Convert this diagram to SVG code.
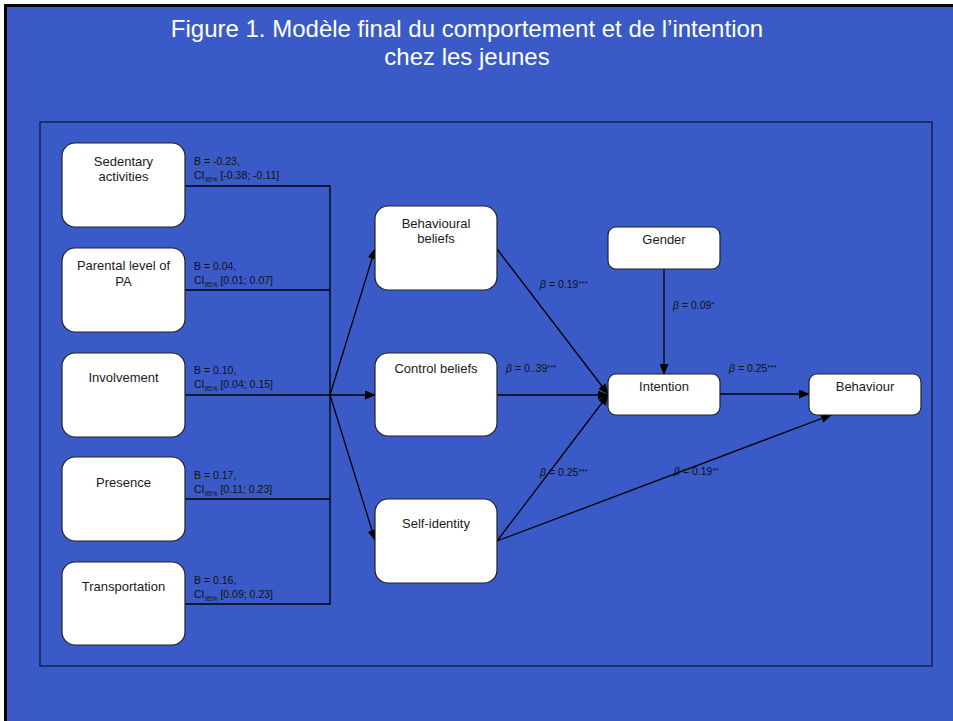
<svg xmlns="http://www.w3.org/2000/svg" width="953" height="721" viewBox="0 0 953 721">
<style>
.title{font-family:"Liberation Sans",Arial,sans-serif;font-size:24px;fill:#ffffff;text-anchor:middle}
.node rect{fill:#ffffff;stroke:#222222;stroke-width:1.2}
.nt{font-family:"Liberation Sans",Arial,sans-serif;font-size:13px;fill:#1a1a1a;text-anchor:middle}
.lb{font-family:"Liberation Sans",Arial,sans-serif;font-size:10.5px;fill:#111111}
.bl{font-family:"Liberation Sans",Arial,sans-serif;font-size:10.5px;fill:#111111}
.sub{font-size:6.5px}
.sup{font-size:8px}
.ln{fill:none;stroke:#000000;stroke-width:1.3}
</style>
<defs>
<marker id="ah" markerWidth="11" markerHeight="9" refX="10" refY="4.5" orient="auto" markerUnits="userSpaceOnUse">
<path d="M0,0 L11,4.5 L0,9 Z" fill="#000000"/>
</marker>
</defs>
<rect x="0" y="0" width="953" height="721" fill="#ffffff"/>
<rect x="4" y="4" width="949" height="717" fill="#000000"/>
<rect x="7" y="7" width="946" height="714" fill="#3A5BC7"/>
<text class="title" x="467" y="37">Figure 1. Modèle final du comportement et de l’intention</text>
<text class="title" x="467" y="65">chez les jeunes</text>
<rect x="40" y="122" width="892" height="544" fill="none" stroke="#14183a" stroke-width="1.3"/>

<g id="connectors">
<polyline class="ln" points="185,186 330,186 330,604 185,604"/>
<line class="ln" x1="185" y1="290" x2="330" y2="290"/>
<line class="ln" x1="185" y1="395" x2="330" y2="395"/>
<line class="ln" x1="185" y1="499" x2="330" y2="499"/>
<line class="ln" x1="330" y1="395" x2="375" y2="249" marker-end="url(#ah)"/>
<line class="ln" x1="330" y1="395" x2="375" y2="395" marker-end="url(#ah)"/>
<line class="ln" x1="330" y1="395" x2="375" y2="540" marker-end="url(#ah)"/>
<line class="ln" x1="497" y1="249" x2="608" y2="394" marker-end="url(#ah)"/>
<line class="ln" x1="497" y1="395" x2="608" y2="395" marker-end="url(#ah)"/>
<line class="ln" x1="497" y1="541" x2="608" y2="395" marker-end="url(#ah)"/>
<line class="ln" x1="497" y1="541" x2="831" y2="415" marker-end="url(#ah)"/>
<line class="ln" x1="664" y1="269" x2="664" y2="374" marker-end="url(#ah)"/>
<line class="ln" x1="720" y1="394" x2="809" y2="394" marker-end="url(#ah)"/>

<text class="lb" x="194" y="165">B = -0.23,</text>
<text class="lb" x="194" y="179">CI<tspan class="sub" dy="2.5">95%</tspan><tspan dy="-2.5"> [-0.38; -0.11]</tspan></text>
<text class="lb" x="194" y="270">B = 0.04,</text>
<text class="lb" x="194" y="284">CI<tspan class="sub" dy="2.5">95%</tspan><tspan dy="-2.5"> [0.01; 0.07]</tspan></text>
<text class="lb" x="194" y="374">B = 0.10,</text>
<text class="lb" x="194" y="388">CI<tspan class="sub" dy="2.5">95%</tspan><tspan dy="-2.5"> [0.04; 0.15]</tspan></text>
<text class="lb" x="194" y="479">B = 0.17,</text>
<text class="lb" x="194" y="493">CI<tspan class="sub" dy="2.5">95%</tspan><tspan dy="-2.5"> [0.11; 0.23]</tspan></text>
<text class="lb" x="194" y="584">B = 0.16,</text>
<text class="lb" x="194" y="598">CI<tspan class="sub" dy="2.5">95%</tspan><tspan dy="-2.5"> [0.09; 0.23]</tspan></text>

<text class="bl" x="540" y="288"><tspan font-style="italic">β</tspan> = 0.19<tspan class="sup" dy="-2.5">***</tspan></text>
<text class="bl" x="506" y="372"><tspan font-style="italic">β</tspan> = 0..39<tspan class="sup" dy="-2.5">***</tspan></text>
<text class="bl" x="540" y="476"><tspan font-style="italic">β</tspan> = 0.25<tspan class="sup" dy="-2.5">***</tspan></text>
<text class="bl" x="674" y="475"><tspan font-style="italic">β</tspan> = 0.19<tspan class="sup" dy="-2.5">**</tspan></text>
<text class="bl" x="673" y="309"><tspan font-style="italic">β</tspan> = 0.09<tspan class="sup" dy="-2.5">*</tspan></text>
<text class="bl" x="729" y="372"><tspan font-style="italic">β</tspan> = 0.25<tspan class="sup" dy="-2.5">***</tspan></text>
</g>

<g id="sedentary" class="node"><rect x="62" y="143" width="123" height="84" rx="13"/><text class="nt" x="123.5" y="166">Sedentary</text><text class="nt" x="123.5" y="181">activities</text></g>
<g id="parental" class="node"><rect x="62" y="248" width="123" height="84" rx="13"/><text class="nt" x="123.5" y="270">Parental level of</text><text class="nt" x="123.5" y="286">PA</text></g>
<g id="involvement" class="node"><rect x="62" y="353" width="123" height="84" rx="13"/><text class="nt" x="123.5" y="382">Involvement</text></g>
<g id="presence" class="node"><rect x="62" y="457" width="123" height="84" rx="13"/><text class="nt" x="123.5" y="487">Presence</text></g>
<g id="transportation" class="node"><rect x="62" y="562" width="123" height="83" rx="13"/><text class="nt" x="123.5" y="591">Transportation</text></g>

<g id="behavioural-beliefs" class="node"><rect x="375" y="206" width="122" height="84" rx="13"/><text class="nt" x="436" y="228">Behavioural</text><text class="nt" x="436" y="243">beliefs</text></g>
<g id="control-beliefs" class="node"><rect x="375" y="353" width="122" height="83" rx="13"/><text class="nt" x="436" y="373">Control beliefs</text></g>
<g id="self-identity" class="node"><rect x="375" y="499" width="122" height="84" rx="13"/><text class="nt" x="436" y="528">Self-identity</text></g>

<g id="gender" class="node"><rect x="608" y="227" width="112" height="42" rx="8"/><text class="nt" x="664" y="244">Gender</text></g>
<g id="intention" class="node"><rect x="608" y="374" width="112" height="41" rx="8"/><text class="nt" x="664" y="391">Intention</text></g>
<g id="behaviour" class="node"><rect x="809" y="374" width="112" height="41" rx="8"/><text class="nt" x="865" y="391">Behaviour</text></g>
</svg>
